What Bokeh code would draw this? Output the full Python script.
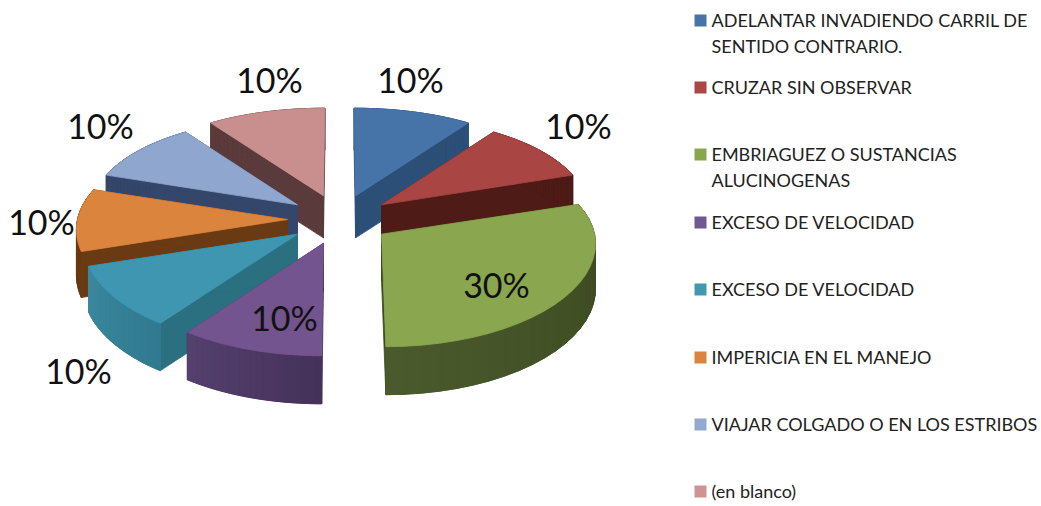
import numpy as np
from bokeh.plotting import figure
from bokeh.embed import file_html
from bokeh.resources import INLINE
from bokeh.core.properties import value

# ---- data ----
categories = ["ADELANTAR INVADIENDO CARRIL DE\nSENTIDO CONTRARIO.", "CRUZAR SIN OBSERVAR",
              "EMBRIAGUEZ O SUSTANCIAS\nALUCINOGENAS", "EXCESO DE VELOCIDAD", "EXCESO DE VELOCIDAD",
              "IMPERICIA EN EL MANEJO", "VIAJAR COLGADO O EN LOS ESTRIBOS", "(en blanco)"]
shares = [10, 10, 30, 10, 10, 10, 10, 10]

# ---- style ----
top_colors = ["#4673A8", "#A94543", "#8AA64E", "#73548F", "#3F96B0", "#DB843D", "#8FA6CF", "#C98F8E"]
cut_colors = ["#2C4F78", "#4E1B17", "#3C4A20", "#46345E", "#2A7080", "#6A3A12", "#34466A", "#5A3A3A"]
arc_from = ["#2C4F78", "#4E1B17", "#3A4620", "#45325A", "#2F7A90", "#6A3A12", "#34466A", "#5A3A3A"]
arc_to = ["#2C4F78", "#4E1B17", "#4A5A2C", "#55406E", "#3C889F", "#6A3A12", "#34466A", "#5A3A3A"]
swatch_colors = ["#4674A9", "#AA4643", "#89A54E", "#71588F", "#4298AF", "#DB843D", "#93A9CF", "#D19392"]
paint_order = [0, 7, 1, 6, 5, 4, 2, 3]
label_xy = [(410, 79), (578, 125), (496, 284), (284, 317), (78, 370), (41, 221), (100, 125), (269, 79)]
legend_rows = [19, 86, 153, 221, 288, 356, 423, 490]
CX, CY = 339, 219
EX, EY = 52, 25
RX, RY = 210, 100
PERSP = 0.125
SPREAD = 0.0008


def rim(t):
    return RX * np.sin(t), -RY * (1 - PERSP * np.cos(t)) * np.cos(t)


def depth(t):
    return 45 - 3 * np.cos(t)


def lerp(a, b, u):
    ca = [int(a[i:i + 2], 16) for i in (1, 3, 5)]
    cb = [int(b[i:i + 2], 16) for i in (1, 3, 5)]
    return "#%02X%02X%02X" % tuple(int(round(x + (y - x) * u)) for x, y in zip(ca, cb))


p = figure(width=1041, height=506, x_range=(0, 1041), y_range=(506, 0), toolbar_location=None,
           output_backend="svg", min_border=0, outline_line_color=None, background_fill_color="white")
p.xaxis.visible = False
p.yaxis.visible = False
p.grid.visible = False

edges = np.radians(np.concatenate([[0], np.cumsum(shares)]) * 360.0 / sum(shares))
xs, ys, fills = [], [], []


def add(x, y, c):
    xs.append(list(x)); ys.append(list(y)); fills.append(c)


for i in paint_order:
    a, b = edges[i], edges[i + 1]
    m = (a + b) / 2
    ax, ay = CX + EX * np.sin(m), CY - EY * np.cos(m)
    ts = np.linspace(a, b, 25)
    rx, ry = rim(ts)
    px, py = ax + rx, ay + ry
    px = CX + (px - CX) * (1 + SPREAD * (py - CY))
    dm = depth(m)
    # cut faces
    for t, qx, qy in ((a, px[0], py[0]), (b, px[-1], py[-1])):
        add([ax, qx, qx, ax], [ay, qy, qy + depth(t), ay + dm], cut_colors[i])
    # outer wall: solid base, then narrow strips for the shading
    dp = depth(ts)
    add(np.r_[px, px[::-1]], np.r_[py, (py + dp)[::-1]], lerp(arc_from[i], arc_to[i], 0.5))
    for k in range(len(ts) - 1):
        add([px[k], px[k + 1], px[k + 1], px[k]],
            [py[k], py[k + 1], py[k + 1] + dp[k + 1], py[k] + dp[k]],
            lerp(arc_from[i], arc_to[i], k / (len(ts) - 2)))
    # top face
    add(np.r_[ax, px], np.r_[ay, py], top_colors[i])

p.patches(xs, ys, fill_color=fills, line_color=fills, line_width=0.8)

# percentage labels
for v, (lx, ly) in zip(shares, label_xy):
    p.text([lx], [ly], text=[f"{v}%"], text_font=value("Lato"), text_font_size="34px",
           text_color="#111111", text_align="center", text_baseline="middle")

# legend
for name, c, ry_ in zip(categories, swatch_colors, legend_rows):
    p.quad(left=[694], right=[706], top=[ry_ - 5], bottom=[ry_ + 7], fill_color=c, line_color=None)
    for j, line in enumerate(name.split("\n")):
        p.text([711], [ry_ + 26 * j], text=[line], text_font=value("Lato"), text_font_size="18px",
               text_color="#222222", text_align="left", text_baseline="middle")

open("out.html", "w").write(file_html(p, INLINE))
